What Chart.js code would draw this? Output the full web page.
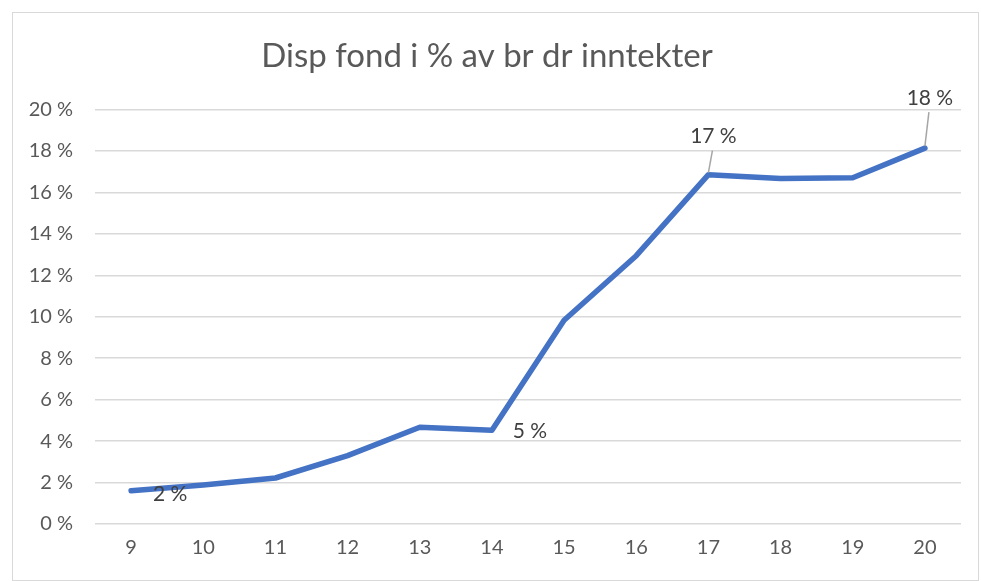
<!DOCTYPE html>
<html>
<head>
<meta charset="utf-8">
<script src="https://cdn.jsdelivr.net/npm/chart.js@4/dist/chart.umd.min.js"></script>
<style>
  body { margin: 0; background: #fff; }
  #wrap { position: absolute; left: 12px; top: 12px; width: 967px; height: 569px; border: 1px solid #d9d9d9; box-sizing: border-box; }
  canvas { display: block; }
</style>
</head>
<body>
<div id="wrap"><canvas id="chart"></canvas></div>
<script>
const labels = ["9", "10", "11", "12", "13", "14", "15", "16", "17", "18", "19", "20"];
const values = [1.6, 1.88, 2.22, 3.3, 4.67, 4.53, 9.83, 12.95, 16.86, 16.67, 16.71, 18.14];
const yTicks = [0, 2, 4, 6, 8, 10, 12, 14, 16, 18, 20];

// which points get a data label, with offset and optional leader line
const labelSpots = [
  { i: 0, dx: 39, dy: 3, leader: false },
  { i: 5, dx: 38, dy: 1, leader: false },
  { i: 8, dx: 5, dy: -38, leader: true },
  { i: 11, dx: 5, dy: -50, leader: true }
];

const FONT = "Lato, 'Open Sans', sans-serif";

const dataLabels = {
  id: "dataLabels",
  afterDatasetsDraw(chart) {
    const ctx = chart.ctx;
    const meta = chart.getDatasetMeta(0);
    ctx.save();
    ctx.font = "21px " + FONT;
    ctx.fillStyle = "#404040";
    ctx.textAlign = "center";
    ctx.textBaseline = "middle";
    labelSpots.forEach(s => {
      const p = meta.data[s.i];
      const tx = p.x + s.dx, ty = p.y + s.dy;
      if (s.leader) {
        ctx.strokeStyle = "#a6a6a6";
        ctx.lineWidth = 1.5;
        ctx.beginPath();
        ctx.moveTo(p.x, p.y - 2);
        ctx.lineTo(tx - 1, ty + 14);
        ctx.stroke();
      }
      ctx.fillText(Math.round(values[s.i]) + " %", tx, ty);
    });
    ctx.restore();
  }
};

new Chart(document.getElementById("chart"), {
  type: "line",
  data: {
    labels: labels,
    datasets: [{
      data: values,
      borderColor: "#4472C4",
      borderWidth: 5.5,
      borderJoinStyle: "round",
      borderCapStyle: "round",
      pointRadius: 0,
      tension: 0,
      fill: false
    }]
  },
  options: {
    responsive: true,
    maintainAspectRatio: false,
    animation: false,
    layout: { padding: { top: 9, right: 17, bottom: 0, left: 0 } },
    plugins: {
      legend: { display: false },
      tooltip: { enabled: false },
      title: {
        display: true,
        text: "Disp fond i % av br dr inntekter",
        color: "#595959",
        font: { family: FONT, size: 33, weight: "normal" },
        padding: { top: 15, bottom: 33 }
      }
    },
    scales: {
      x: {
        offset: true,
        grid: { display: false, drawTicks: false },
        border: { display: false },
        ticks: { color: "#595959", font: { family: FONT, size: 20 }, padding: 12 },
        afterFit: s => { s.height = 56; }
      },
      y: {
        min: 0,
        max: 20,
        afterBuildTicks: s => { s.ticks = yTicks.map(v => ({ value: v })); },
        grid: { color: "#d9d9d9", lineWidth: 1.5, drawTicks: false },
        border: { display: false },
        ticks: {
          color: "#595959",
          font: { family: FONT, size: 20 },
          padding: 22,
          callback: v => v + " %"
        },
        afterFit: s => { s.width = 82; }
      }
    }
  },
  plugins: [dataLabels]
});
</script>
</body>
</html>
